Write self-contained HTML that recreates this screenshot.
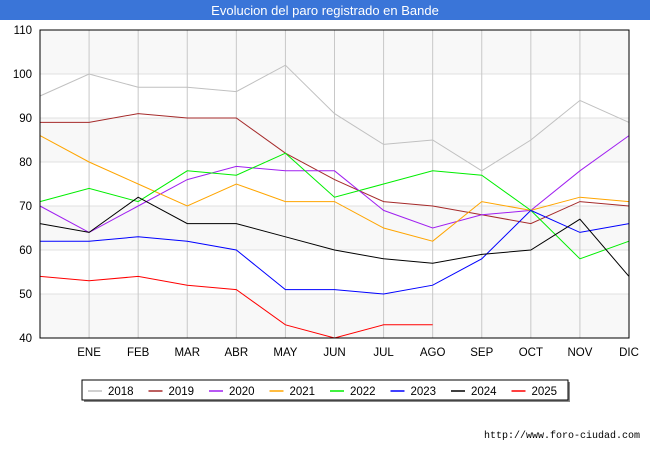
<!DOCTYPE html>
<html><head><meta charset="utf-8"><style>
body{margin:0;background:#fff;font-family:"Liberation Sans",sans-serif;}
</style></head><body>
<div style="position:relative;width:650px;height:450px;">
<svg id="c" width="650" height="450" xmlns="http://www.w3.org/2000/svg">
<rect x="0" y="0" width="650" height="20" fill="#3a75d8"/>
<text x="325" y="15" text-anchor="middle" fill="#fff" font-size="13" font-family="Liberation Sans, sans-serif">Evolucion del paro registrado en Bande</text>
<g id="grid"></g><g id="series"></g>
<rect x="40" y="30" width="589" height="308" fill="none" stroke="#000" stroke-width="1"/>
<g id="legend"></g>
<text x="640" y="438" text-anchor="end" font-size="10" font-family="Liberation Mono, monospace" fill="#000">http://www.foro-ciudad.com</text>
</svg>
<script>
const categories=["","ENE","FEB","MAR","ABR","MAY","JUN","JUL","AGO","SEP","OCT","NOV","DIC"];
const yTicks=[40,50,60,70,80,90,100,110];
const years=["2018","2019","2020","2021","2022","2023","2024","2025"];
const colors=["#c0c0c0","#a52a2a","#a020f0","#ffa500","#00ee00","#0000ff","#000000","#ff0000"];
const s2018=[95,100,97,97,96,102,91,84,85,78,85,94,89];
const s2019=[89,89,91,90,90,82,76,71,70,68,66,71,70];
const s2020=[70,64,70,76,79,78,78,69,65,68,69,78,86];
const s2021=[86,80,75,70,75,71,71,65,62,71,69,72,71];
const s2022=[71,74,71,78,77,82,72,75,78,77,69,58,62];
const s2023=[62,62,63,62,60,51,51,50,52,58,69,64,66];
const s2024=[66,64,72,66,66,63,60,58,57,59,60,67,54];
const s2025=[54,53,54,52,51,43,40,43,43];
const seriesData=[s2018,s2019,s2020,s2021,s2022,s2023,s2024,s2025];
const NS="http://www.w3.org/2000/svg";
const x0=40,x1=629,yTop=30,yBot=338,yMin=40,yMax=110;
const xs=i=>x0+i*(x1-x0)/(categories.length-1);
const ys=v=>yBot-(v-yMin)*(yBot-yTop)/(yMax-yMin);
function mk(t,a,p){const e=document.createElementNS(NS,t);for(const k in a)e.setAttribute(k,a[k]);p.appendChild(e);return e;}
const grid=document.getElementById('grid');
for(let i=0;i<yTicks.length-1;i++){if(i%2===0){const r=mk('rect',{x:x0,y:ys(yTicks[i+1]),width:x1-x0,height:ys(yTicks[i])-ys(yTicks[i+1]),fill:'#f8f8f8'},grid);

}}
yTicks.forEach(v=>{const l=mk('line',{x1:x0,x2:x1,y1:ys(v),y2:ys(v),stroke:'#e0e0e0'},grid);


const t=mk('text',{x:x0-8,y:ys(v)+4,'text-anchor':'end','font-size':'11.5',fill:'#000'},grid);t.textContent=v;

});
categories.forEach((c,i)=>{if(i>0){const l=mk('line',{x1:xs(i),x2:xs(i),y1:yTop,y2:yBot,stroke:'#c8c8c8'},grid);

}
const t=mk('text',{x:xs(i),y:356,'text-anchor':'middle','font-size':'11.5',fill:'#000'},grid);t.textContent=c;

});
const sg=document.getElementById('series');
seriesData.forEach((d,k)=>{const p=mk('polyline',{points:d.map((v,i)=>xs(i)+','+ys(v)).join(' '),fill:'none',stroke:colors[k],'stroke-width':1},sg);

});
const lg=document.getElementById('legend');
mk('rect',{x:84,y:382,width:486,height:20,fill:'#888'},lg);
const box=mk('rect',{x:82,y:380,width:486,height:20,fill:'#fff',stroke:'#000'},lg);


years.forEach((y,k)=>{const bx=88+k*60.5;
const l=mk('line',{x1:bx,x2:bx+14,y1:391,y2:391,stroke:colors[k],'stroke-width':1.5},lg);


const t=mk('text',{x:bx+20,y:395,'font-size':'11.5',fill:'#000'},lg);t.textContent=y;

});
</script>
</div>
</body></html>
